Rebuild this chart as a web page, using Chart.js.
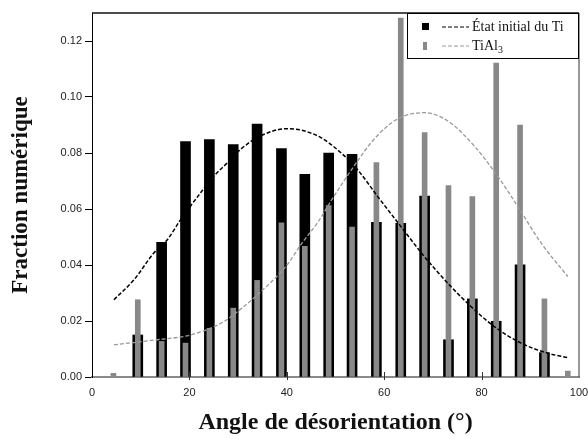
<!DOCTYPE html>
<html lang="fr">
<head>
    <meta charset="UTF-8">
    <title>Fraction numérique vs angle de désorientation</title>
    <script src="https://cdn.jsdelivr.net/npm/chart.js@4"></script>
    <style>
        html, body { margin: 0; padding: 0; background: #fff; }
        #wrap { width: 588px; height: 439px; }
    </style>
</head>
<body>
<div id="wrap"><canvas id="misoChart" width="588" height="439"></canvas></div>

<script>
    // bin centres (deg)
    const angles = [4.4, 9.4, 14.3, 19.2, 24.1, 29.0, 33.9, 38.9, 43.7, 48.6, 53.4, 58.4, 63.4, 68.3, 73.2, 78.1, 83.0, 87.9, 92.9, 97.7];
    // Etat initial du Ti (black bars)
    const tiInitial = [null, 0.0150, 0.0481, 0.0841, 0.0848, 0.0830, 0.0903, 0.0816, 0.0724, 0.0800, 0.0795, 0.0552, 0.0549, 0.0646, 0.0133, 0.0279, 0.0199, 0.0401, 0.0087, null];
    // TiAl3 (grey bars)
    const tiAl3 = [0.0013, 0.0276, 0.0127, 0.0121, 0.0174, 0.0246, 0.0345, 0.0551, 0.0467, 0.0612, 0.0535, 0.0766, 0.1282, 0.0873, 0.0684, 0.0644, 0.1121, 0.0900, 0.0279, 0.0021];

    // dashed fitted curves
    const fitTiX = [4.5, 8.6, 12.7, 15.5, 18.2, 22.3, 25.0, 27.8, 30.5, 34.6, 40.1, 42.9, 47.0, 51.1, 54.5, 58.6, 63.4, 68.2, 73.0, 77.8, 82.6, 88.1, 93.6, 97.7];
    const fitTiY = [0.0276, 0.0347, 0.0443, 0.0491, 0.0562, 0.0658, 0.0717, 0.0765, 0.0813, 0.0861, 0.0887, 0.0882, 0.0855, 0.0801, 0.0741, 0.0646, 0.0538, 0.0431, 0.0336, 0.0252, 0.0180, 0.0121, 0.0085, 0.0069];
    const fitAlX = [4.5, 13.4, 20.2, 27.1, 31.2, 34.0, 40.1, 42.9, 46.3, 49.7, 53.8, 57.9, 62.7, 68.2, 73.0, 78.5, 83.3, 87.4, 92.2, 97.7];
    const fitAlY = [0.0115, 0.0133, 0.0150, 0.0198, 0.0252, 0.0294, 0.0401, 0.0473, 0.0551, 0.0646, 0.0753, 0.0849, 0.0921, 0.0944, 0.0915, 0.0825, 0.0717, 0.0610, 0.0479, 0.0359];

    const xTicks = [0, 20, 40, 60, 80, 100];
    const legendLabels = ['État initial du Ti', 'TiAl'];

    const BLACK = '#000000';
    const GREY_BAR = '#888888';
    const GREY_LINE = '#9a9a9a';

    function pts(xs, ys) {
        return xs.map((x, i) => ({ x: x, y: ys[i] }));
    }

    // frame (top/right), inner x ticks and the boxed legend
    const framePlugin = {
        id: 'frame',
        afterDraw(chart) {
            const ctx = chart.ctx;
            const a = chart.chartArea;
            const xs = chart.scales.x;
            ctx.save();
            ctx.strokeStyle = '#111';
            ctx.lineWidth = 1.5;
            ctx.beginPath();
            ctx.moveTo(a.left, a.top);
            ctx.lineTo(a.right, a.top);
            ctx.stroke();
            ctx.strokeStyle = '#555';
            ctx.lineWidth = 1.2;
            ctx.beginPath();
            ctx.moveTo(a.right, a.top);
            ctx.lineTo(a.right, a.bottom);
            ctx.stroke();

            ctx.strokeStyle = '#333';
            ctx.lineWidth = 1;
            xTicks.slice(1, -1).forEach(v => {
                const px = Math.round(xs.getPixelForValue(v)) + 0.5;
                ctx.beginPath();
                ctx.moveTo(px, a.bottom + 3);
                ctx.lineTo(px, a.bottom - 5);
                ctx.stroke();
            });

            // legend box
            const bx = a.right - 172, by = a.top, bw = 172, bh = 46;
            ctx.fillStyle = '#fff';
            ctx.fillRect(bx, by, bw, bh);
            ctx.strokeStyle = '#000';
            ctx.lineWidth = 1;
            ctx.strokeRect(bx + 0.5, by + 0.5, bw - 1, bh - 1);

            const rows = [by + 14, by + 33];
            ctx.fillStyle = BLACK;
            ctx.fillRect(bx + 15, rows[0] - 4, 7, 7);
            ctx.fillStyle = GREY_BAR;
            ctx.fillRect(bx + 16, rows[1] - 4, 4, 8);

            ctx.setLineDash([4, 2]);
            ctx.lineWidth = 1.2;
            ctx.strokeStyle = BLACK;
            ctx.beginPath();
            ctx.moveTo(bx + 35, rows[0]);
            ctx.lineTo(bx + 62, rows[0]);
            ctx.stroke();
            ctx.strokeStyle = GREY_LINE;
            ctx.beginPath();
            ctx.moveTo(bx + 35, rows[1]);
            ctx.lineTo(bx + 62, rows[1]);
            ctx.stroke();
            ctx.setLineDash([]);

            ctx.fillStyle = '#111';
            ctx.textBaseline = 'middle';
            ctx.textAlign = 'left';
            ctx.font = '14px "Liberation Serif", serif';
            ctx.fillText(legendLabels[0], bx + 65, rows[0]);
            ctx.fillText(legendLabels[1], bx + 65, rows[1]);
            const w = ctx.measureText(legendLabels[1]).width;
            ctx.font = '10px "Liberation Serif", serif';
            ctx.fillText('3', bx + 65 + w, rows[1] + 4);
            ctx.restore();
        }
    };

    const ctx = document.getElementById('misoChart').getContext('2d');
    const misoChart = new Chart(ctx, {
        type: 'bar',
        data: {
            datasets: [
                {
                    type: 'line',
                    label: 'TiAl3 fit',
                    data: pts(fitAlX, fitAlY),
                    borderColor: GREY_LINE,
                    borderWidth: 1.3,
                    borderDash: [4, 2],
                    pointRadius: 0,
                    cubicInterpolationMode: 'monotone',
                    fill: false,
                    order: 0
                },
                {
                    type: 'line',
                    label: 'Ti fit',
                    data: pts(fitTiX, fitTiY),
                    borderColor: BLACK,
                    borderWidth: 1.5,
                    borderDash: [4, 2],
                    pointRadius: 0,
                    cubicInterpolationMode: 'monotone',
                    fill: false,
                    order: 1
                },
                {
                    label: 'TiAl3',
                    data: pts(angles, tiAl3),
                    backgroundColor: GREY_BAR,
                    barThickness: 5,
                    grouped: false,
                    order: 2
                },
                {
                    label: 'État initial du Ti',
                    data: pts(angles, tiInitial),
                    backgroundColor: BLACK,
                    barThickness: 10,
                    grouped: false,
                    order: 3
                }
            ]
        },
        options: {
            responsive: false,
            animation: false,
            layout: { padding: { top: 13, right: 9, left: 0, bottom: 0 } },
            plugins: {
                legend: { display: false },
                tooltip: { enabled: false }
            },
            scales: {
                x: {
                    type: 'linear',
                    min: 0,
                    max: 100,
                    offset: false,
                    afterFit: s => { s.height = 62; s.paddingLeft = 0; s.paddingRight = 0; },
                    afterBuildTicks: s => { s.ticks = xTicks.map(v => ({ value: v })); },
                    grid: { display: true, drawOnChartArea: false, drawTicks: false, offset: false },
                    border: { color: '#8a8a8a', width: 2 },
                    ticks: {
                        padding: 9,
                        color: '#222',
                        font: { family: '"Liberation Sans", Arial, sans-serif', size: 11 },
                        maxRotation: 0
                    },
                    title: {
                        display: true,
                        text: 'Angle de désorientation (°)',
                        color: '#111',
                        font: { family: '"Liberation Serif", serif', size: 24, weight: 'bold', lineHeight: 1 },
                        padding: { top: 0, bottom: 4 }
                    }
                },
                y: {
                    min: 0,
                    max: 0.13,
                    afterFit: s => { s.width = 92; s.paddingTop = 0; s.paddingBottom = 0; },
                    grid: { drawOnChartArea: false, tickLength: 7, color: '#000' },
                    border: { color: '#000', width: 1 },
                    ticks: {
                        stepSize: 0.02,
                        includeBounds: false,
                        padding: 3,
                        color: '#222',
                        font: { family: '"Liberation Sans", Arial, sans-serif', size: 11 },
                        callback: v => v.toFixed(2)
                    },
                    title: {
                        display: true,
                        text: 'Fraction numérique',
                        color: '#111',
                        font: { family: '"Liberation Serif", serif', size: 23, weight: 'bold', lineHeight: 1 },
                        padding: { top: 10, bottom: 0 }
                    }
                }
            }
        },
        plugins: [framePlugin]
    });
</script>
</body>
</html>
